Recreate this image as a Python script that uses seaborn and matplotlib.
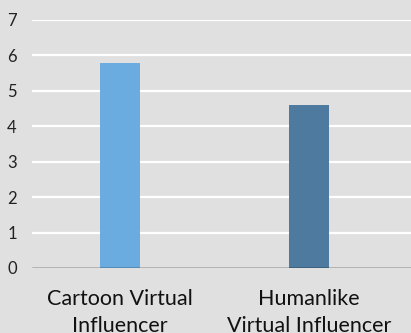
import matplotlib
matplotlib.use("Agg")
import matplotlib.pyplot as plt
import seaborn as sns
import pandas as pd

categories = ["Cartoon Virtual\nInfluencer", "Humanlike\nVirtual Influencer"]
values = [5.8, 4.6]
colors = ["#6aace0", "#4d7a9e"]
yticks = [0, 1, 2, 3, 4, 5, 6, 7]

df = pd.DataFrame({"cat": categories, "val": values})

sns.set_theme(style="white")
plt.rcParams["font.family"] = ["Lato", "DejaVu Sans"]

bg = "#e0e0e0"
fig = plt.figure(figsize=(4.11, 3.33), dpi=100, facecolor=bg)
ax = fig.add_axes([32/411, 1-268/333, 1-32/411, (268-20)/333])
ax.set_facecolor(bg)

sns.barplot(data=df, x="cat", y="val", hue="cat", palette=colors, legend=False,
            width=0.212, ax=ax, saturation=1, zorder=3, linewidth=0, edgecolor="none")

ax.set_ylim(0, 7)
ax.set_xlim(-0.466, 1.54)
ax.set_yticks(yticks)
for t in yticks[1:]:
    ax.axhline(t, color="white", lw=1.6, zorder=1)
ax.axhline(0, color="black", lw=1.0, zorder=4)
for s in ax.spines.values():
    s.set_visible(False)
ax.set_xlabel("")
ax.set_ylabel("")
ax.tick_params(axis="y", length=0, pad=11, labelsize=12, labelcolor="#222222")
ax.tick_params(axis="x", length=0, pad=15, labelsize=15.5, labelcolor="#111111")
for lab in ax.get_xticklabels():
    lab.set_linespacing(1.45)

fig.savefig("out.png", dpi=100, facecolor=bg)
